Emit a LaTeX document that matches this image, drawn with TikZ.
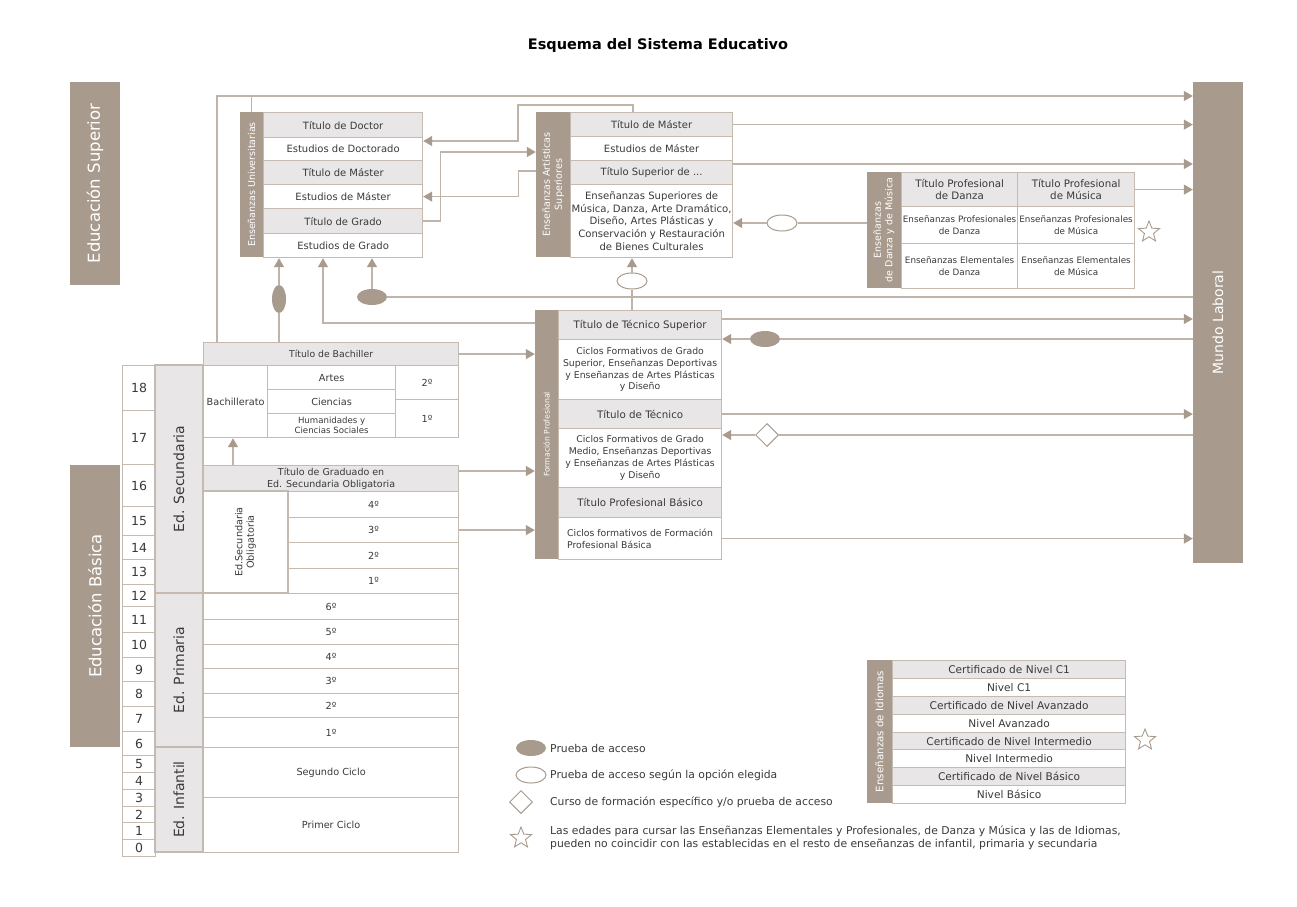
\documentclass[tikz,border=0pt]{standalone}
\usepackage{fontspec}
\setmainfont{DejaVu Sans}
\usetikzlibrary{arrows.meta,shapes.geometric}

\definecolor{taupe}{HTML}{A89B8E}
\definecolor{headgrey}{HTML}{E8E6E6}
\definecolor{boxline}{HTML}{C4BAB0}
\definecolor{linkcol}{HTML}{BFB4A9}
\definecolor{inkcol}{HTML}{3A3A3A}

\tikzset{
    cell-box/.style = {draw=boxline, fill=white, line width=1.2pt, inner sep=0pt, align=center, text=inkcol, font=\fontsize{9.7}{11.5}\selectfont},
    head-box/.style = {cell-box, fill=headgrey, font=\fontsize{10.3}{12}\selectfont},
    big-text/.style = {font=\fontsize{10}{12}\selectfont},
    small-text/.style = {font=\fontsize{8.8}{11.5}\selectfont},
    dark-bar/.style = {fill=taupe, inner sep=0pt, align=center, text=white, font=\fontsize{9.5}{11.5}\selectfont},
    big-label/.style = {font=\fontsize{14}{16}\selectfont},
    side-label/.style = {font=\fontsize{16.5}{18}\selectfont},
    ed-bar/.style = {cell-box, fill=headgrey, font=\fontsize{14}{16}\selectfont},
    age-box/.style = {cell-box, font=\fontsize{12.5}{14}\selectfont},
    link-line/.style = {draw=linkcol, line width=1.3pt},
    link-arrow/.style = {link-line, -{Triangle[length=9pt,width=10pt,color=taupe]}},
    full-oval/.style = {ellipse, fill=taupe, inner sep=0pt, minimum width=30pt, minimum height=16pt},
    open-oval/.style = {ellipse, draw=taupe, line width=1pt, fill=white, inner sep=0pt, minimum width=30pt, minimum height=16pt},
    course-mark/.style = {diamond, draw=taupe, line width=1pt, fill=white, inner sep=0pt, minimum size=23pt},
    star-mark/.style = {star, star points=5, star point ratio=2.3, draw=taupe, line width=0.9pt, inner sep=0pt, minimum size=22pt},
    legend-text/.style = {anchor=west, inner sep=0pt, align=left, text=inkcol, font=\fontsize{10.8}{13}\selectfont},
}

% box from (x1,y1) to (x2,y2), pixel-like units
\newcommand{\cellbox}[7]{%
  \pgfmathsetmacro{\cellw}{#5-#3}%
  \pgfmathsetmacro{\cellh}{#6-#4}%
  \node[#1, minimum width=\cellw pt, minimum height=\cellh pt, anchor=north west] (#2) at (#3,#4) {#7};%
}
% same box, text running upwards
\newcommand{\barbox}[7]{%
  \pgfmathsetmacro{\cellw}{#5-#3}%
  \pgfmathsetmacro{\cellh}{#6-#4}%
  \pgfmathsetmacro{\cellx}{(#3+#5)/2}%
  \pgfmathsetmacro{\celly}{(#4+#6)/2}%
  \node[#1, rotate=90, minimum width=\cellh pt, minimum height=\cellw pt] (#2) at (\cellx,\celly) {#7};%
}

\begin{document}
\begin{tikzpicture}[x=1pt, y=-1pt]
\useasboundingbox (0,0) rectangle (1297,906);

\node[font=\bfseries\fontsize{14.5}{16}\selectfont] (title) at (658,45) {Esquema del Sistema Educativo};

% side bars
\barbox{dark-bar, side-label}{supBar}{70}{82}{120}{285}{Educación Superior}
\barbox{dark-bar, side-label}{basBar}{70}{465}{120}{747}{Educación Básica}
\barbox{dark-bar, big-label}{mundo}{1193}{82}{1243}{563}{Mundo Laboral}

% ages
\foreach \age/\ya/\yb in {18/365/410, 17/410/464, 16/464/506, 15/506/535, 14/535/559, 13/559/584, 12/584/606, 11/606/632, 10/632/657, 9/657/681, 8/681/706, 7/706/731, 6/731/755, 5/755/772, 4/772/789, 3/789/806, 2/806/822, 1/822/839, 0/839/856}
  {\cellbox{age-box}{age\age}{122}{\ya}{155}{\yb}{\age}}

\barbox{ed-bar}{secBar}{155}{365}{203}{593}{Ed. Secundaria}
\barbox{ed-bar}{priBar}{155}{593}{203}{747}{Ed. Primaria}
\barbox{ed-bar}{infBar}{155}{747}{203}{852}{Ed. Infantil}

% Bachillerato
\cellbox{head-box, font=\fontsize{9.3}{11}\selectfont}{tBach}{203}{342}{458}{365}{Título de Bachiller}
\cellbox{cell-box}{bachLbl}{203}{365}{267}{437}{Bachillerato}
\cellbox{cell-box}{artes}{267}{365}{395}{389}{Artes}
\cellbox{cell-box}{ciencias}{267}{389}{395}{413}{Ciencias}
\cellbox{cell-box, font=\fontsize{8.6}{10}\selectfont}{human}{267}{413}{395}{437}{Humanidades y\\Ciencias Sociales}
\cellbox{cell-box}{bach2}{395}{365}{458}{399}{2º}
\cellbox{cell-box}{bach1}{395}{399}{458}{437}{1º}

% ESO
\cellbox{head-box, font=\fontsize{9.5}{11.5}\selectfont}{tGrad}{203}{465}{458}{491}{Título de Graduado en\\Ed. Secundaria Obligatoria}
\barbox{cell-box}{esoLbl}{203}{491}{288}{593}{Ed.Secundaria\\Obligatoria}
\foreach \n/\ya/\yb in {4/491/517, 3/517/542, 2/542/568, 1/568/593}
  {\cellbox{cell-box}{eso\n}{288}{\ya}{458}{\yb}{\n º}}

% Primaria e Infantil
\foreach \n/\ya/\yb in {6/593/619, 5/619/644, 4/644/668, 3/668/693, 2/693/717, 1/717/747}
  {\cellbox{cell-box}{pri\n}{203}{\ya}{458}{\yb}{\n º}}
\cellbox{cell-box}{inf2}{203}{747}{458}{797}{Segundo Ciclo}
\cellbox{cell-box}{inf1}{203}{797}{458}{852}{Primer Ciclo}

% Enseñanzas Universitarias
\barbox{dark-bar}{unBar}{240}{112}{263}{257}{Enseñanzas Universitarias}
\cellbox{head-box, big-text}{unDoc}{263}{112}{422}{137}{Título de Doctor}
\cellbox{cell-box, big-text}{unEDoc}{263}{137}{422}{160}{Estudios de Doctorado}
\cellbox{head-box, big-text}{unMas}{263}{160}{422}{184}{Título de Máster}
\cellbox{cell-box, big-text}{unEMas}{263}{184}{422}{208}{Estudios de Máster}
\cellbox{head-box, big-text}{unGra}{263}{208}{422}{233}{Título de Grado}
\cellbox{cell-box, big-text}{unEGra}{263}{233}{422}{257}{Estudios de Grado}

% Enseñanzas Artísticas Superiores
\barbox{dark-bar, font=\fontsize{9.6}{12}\selectfont}{arBar}{536}{112}{570}{257}{Enseñanzas Artísticas\\Superiores}
\cellbox{head-box, big-text}{arMas}{570}{112}{732}{136}{Título de Máster}
\cellbox{cell-box, big-text}{arEMas}{570}{136}{732}{160}{Estudios de Máster}
\cellbox{head-box, big-text}{arSup}{570}{160}{732}{184}{Título Superior de ...}
\cellbox{cell-box, font=\fontsize{10.1}{12.8}\selectfont}{arEns}{570}{184}{732}{257}{Enseñanzas Superiores de\\Música, Danza, Arte Dramático,\\Diseño, Artes Plásticas y\\Conservación y Restauración\\de Bienes Culturales}

% Danza y Música
\barbox{dark-bar}{dmBar}{867}{172}{901}{288}{Enseñanzas\\de Danza y de Música}
\cellbox{head-box}{dmTD}{901}{172}{1017}{206}{Título Profesional\\de Danza}
\cellbox{head-box}{dmTM}{1017}{172}{1134}{206}{Título Profesional\\de Música}
\cellbox{cell-box, small-text}{dmPD}{901}{206}{1017}{243}{Enseñanzas Profesionales\\de Danza}
\cellbox{cell-box, small-text}{dmPM}{1017}{206}{1134}{243}{Enseñanzas Profesionales\\de Música}
\cellbox{cell-box, small-text}{dmED}{901}{243}{1017}{288}{Enseñanzas Elementales\\de Danza}
\cellbox{cell-box, small-text}{dmEM}{1017}{243}{1134}{288}{Enseñanzas Elementales\\de Música}
\node[star-mark] (star-dm) at (1149,232) {};

% Formación Profesional
\barbox{dark-bar, font=\fontsize{7.7}{9}\selectfont}{fpBar}{535}{310}{558}{559}{Formación Profesional}
\cellbox{head-box}{fpTS}{558}{310}{721}{339}{Título de Técnico Superior}
\cellbox{cell-box, font=\fontsize{9.3}{11.8}\selectfont}{fpGS}{558}{339}{721}{399}{Ciclos Formativos de Grado\\Superior, Enseñanzas Deportivas\\y Enseñanzas de Artes Plásticas\\y Diseño}
\cellbox{head-box}{fpT}{558}{399}{721}{428}{Título de Técnico}
\cellbox{cell-box, font=\fontsize{9.3}{11.8}\selectfont}{fpGM}{558}{428}{721}{487}{Ciclos Formativos de Grado\\Medio, Enseñanzas Deportivas\\y Enseñanzas de Artes Plásticas\\y Diseño}
\cellbox{head-box}{fpTB}{558}{487}{721}{517}{Título Profesional Básico}
\cellbox{cell-box, align=left, font=\fontsize{9.3}{12.5}\selectfont}{fpB}{558}{517}{721}{559}{Ciclos formativos de Formación\\Profesional Básica}

% Idiomas
\barbox{dark-bar, font=\fontsize{10.3}{11}\selectfont}{idBar}{867}{660}{892}{803}{Enseñanzas de Idiomas}
\foreach \txt/\ya/\yb/\fc [count=\i] in {Certificado de Nivel C1/660/678/headgrey, Nivel C1/678/696/white, Certificado de Nivel Avanzado/696/714/headgrey, Nivel Avanzado/714/732/white, Certificado de Nivel Intermedio/732/749/headgrey, Nivel Intermedio/749/767/white, Certificado de Nivel Básico/767/785/headgrey, Nivel Básico/785/803/white}
  {\cellbox{cell-box, fill=\fc, font=\fontsize{10.6}{12}\selectfont}{id\i}{892}{\ya}{1125}{\yb}{\txt}}
\node[star-mark] (star-id) at (1145,740) {};

% links to Mundo Laboral along the top
\coordinate (y-top) at (0,96);
\draw[link-arrow] ([xshift=14pt]tBach.north west) |- (y-top -| mundo.north);
\draw[link-line] (unBar.east) -- (unBar.east |- y-top);

% access to Grado
\node[full-oval, minimum width=14pt, minimum height=28pt] (acc-bach) at (279,299) {};
\draw[link-line] (tBach.north -| acc-bach) -- (acc-bach);
\draw[link-arrow] (acc-bach) -- (acc-bach |- unEGra.south);
\coordinate (y-grado) at (0,323);
\draw[link-arrow] (fpBar.north |- y-grado) -| ([xshift=60pt]unEGra.south west);
\node[full-oval] (acc-mundo) at (372,297) {};
\draw[link-line] (mundo.north |- acc-mundo) -- (acc-mundo);
\draw[link-arrow] (acc-mundo) -- (acc-mundo |- unEGra.south);

% Universidad <-> Artísticas
\draw[link-arrow] ([xshift=63pt]arMas.north west) |- (518,105) |- ([yshift=-4pt]unEDoc.north east);
\coordinate (y-art) at (0,152);
\draw[link-arrow] (unGra.east) -- ++(17,0) |- (arBar.north |- y-art);
\coordinate (y-sup) at (0,171);
\draw[link-arrow] (arBar.north |- y-sup) -| ([xshift=95pt]unEMas.east) -- (unEMas.east);

% Artísticas, Danza y Música
\draw[link-arrow] (arMas.east) -- (arMas.east -| mundo.north);
\coordinate (sup-out) at ([yshift=-4pt]arSup.north east);
\draw[link-arrow] (sup-out) -- (sup-out -| mundo.north);
\draw[link-arrow] (dmTM.east) -- (dmTM.east -| mundo.north);
\node[open-oval] (opt-dm) at (782,223) {};
\draw[link-line] (dmBar.north |- opt-dm) -- (opt-dm);
\draw[link-arrow] (opt-dm) -- (opt-dm -| arEns.east);
\node[open-oval] (opt-fp) at (632,281) {};
\draw[link-line] (fpTS.north -| opt-fp) -- (opt-fp);
\draw[link-arrow] (opt-fp) -- (opt-fp |- arEns.south);

% FP <-> Mundo Laboral
\coordinate (ts-out) at ([yshift=-9pt]fpTS.north east);
\draw[link-arrow] (ts-out) -- (ts-out -| mundo.north);
\node[full-oval] (acc-ts) at (765,339) {};
\draw[link-line] (mundo.north |- acc-ts) -- (acc-ts);
\draw[link-arrow] (acc-ts) -- (acc-ts -| fpGS.east);
\draw[link-arrow] (fpT.east) -- (fpT.east -| mundo.north);
\node[course-mark] (crs-t) at (767,435) {};
\draw[link-line] (mundo.north |- crs-t) -- (crs-t);
\draw[link-arrow] (crs-t) -- (crs-t -| fpGM.east);
\draw[link-arrow] (fpB.east) -- (fpB.east -| mundo.north);

% Secundaria -> FP
\draw[link-arrow] (tBach.east) -- (tBach.east -| fpBar.north);
\coordinate (grad-out) at ([yshift=-6pt]tGrad.north east);
\draw[link-arrow] (grad-out) -- (grad-out -| fpBar.north);
\draw[link-arrow] (eso3.east) -- (eso3.east -| fpBar.north);
\draw[link-arrow] ([xshift=30pt]tGrad.north west) -- ([xshift=30pt]bachLbl.south west);

% legend
\node[full-oval] (lg-acc) at (531,748) {};
\node[legend-text] (lg-acc-t) at (550,748) {Prueba de acceso};
\node[open-oval] (lg-opt) at (531,775) {};
\node[legend-text] (lg-opt-t) at (550,775) {Prueba de acceso según la opción elegida};
\node[course-mark] (lg-crs) at (521,802) {};
\node[legend-text] (lg-crs-t) at (550,802) {Curso de formación específico y/o prueba de acceso};
\node[star-mark] (lg-star) at (521,838) {};
\node[legend-text] (lg-star-t) at (550,838) {Las edades para cursar las Enseñanzas Elementales y Profesionales, de Danza y Música y las de Idiomas,\\pueden no coincidir con las establecidas en el resto de enseñanzas de infantil, primaria y secundaria};
\end{tikzpicture}
\end{document}
